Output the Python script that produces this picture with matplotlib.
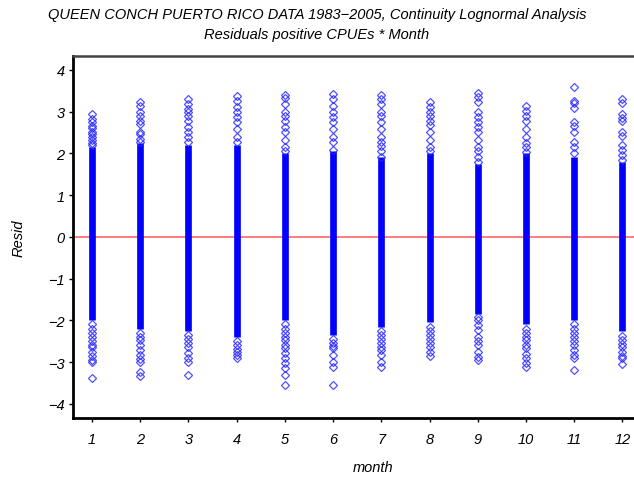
import matplotlib
matplotlib.use("Agg")
import matplotlib.pyplot as plt

months = list(range(1, 13))
core_lo = [-2.00, -2.20, -2.25, -2.40, -2.00, -2.35, -2.15, -2.05, -1.85, -2.10, -2.00, -2.25]
core_hi = [2.15, 2.25, 2.20, 2.20, 2.00, 2.05, 1.90, 2.00, 1.75, 2.00, 1.90, 1.80]
upper_pts = [
    [2.95, 2.82, 2.75, 2.65, 2.60, 2.50, 2.45, 2.40, 2.32, 2.25, 2.20],
    [3.22, 3.13, 2.98, 2.89, 2.77, 2.69, 2.52, 2.45, 2.35, 2.28],
    [3.29, 3.17, 3.05, 2.98, 2.90, 2.77, 2.64, 2.50, 2.38, 2.26],
    [3.37, 3.25, 3.10, 2.98, 2.86, 2.74, 2.57, 2.40, 2.28],
    [3.39, 3.33, 3.17, 2.98, 2.90, 2.77, 2.62, 2.50, 2.33, 2.16, 2.05],
    [3.41, 3.29, 3.13, 2.98, 2.86, 2.74, 2.57, 2.40, 2.26, 2.09],
    [3.39, 3.29, 3.17, 2.98, 2.90, 2.74, 2.57, 2.38, 2.26, 2.18, 2.05, 1.92],
    [3.22, 3.12, 3.00, 2.90, 2.77, 2.68, 2.50, 2.33, 2.16, 2.05],
    [3.44, 3.35, 3.22, 3.00, 2.86, 2.75, 2.62, 2.50, 2.33, 2.16, 2.05, 1.90, 1.80],
    [3.13, 3.02, 2.89, 2.78, 2.57, 2.38, 2.25, 2.14, 2.04],
    [3.58, 3.25, 3.20, 3.08, 2.74, 2.65, 2.50, 2.28, 2.14, 2.00],
    [3.29, 3.20, 2.93, 2.85, 2.77, 2.50, 2.42, 2.21, 2.09, 1.97, 1.85],
]
lower_pts = [
    [-2.10, -2.20, -2.30, -2.40, -2.50, -2.60, -2.65, -2.75, -2.85, -2.95, -3.00, -3.38],
    [-2.30, -2.40, -2.48, -2.60, -2.72, -2.84, -2.92, -3.00, -3.24, -3.33],
    [-2.35, -2.45, -2.55, -2.65, -2.78, -2.90, -2.99, -3.32],
    [-2.50, -2.60, -2.68, -2.76, -2.84, -2.91],
    [-2.10, -2.20, -2.30, -2.40, -2.48, -2.58, -2.67, -2.78, -2.91, -3.03, -3.15, -3.32, -3.56],
    [-2.45, -2.55, -2.62, -2.67, -2.84, -3.00, -3.13, -3.56],
    [-2.25, -2.35, -2.45, -2.55, -2.65, -2.72, -2.84, -3.00, -3.13],
    [-2.15, -2.25, -2.35, -2.45, -2.55, -2.64, -2.75, -2.86],
    [-1.92, -2.00, -2.12, -2.24, -2.40, -2.50, -2.60, -2.76, -2.88, -2.96],
    [-2.20, -2.30, -2.40, -2.48, -2.58, -2.67, -2.80, -2.91, -3.03, -3.13],
    [-2.10, -2.20, -2.30, -2.40, -2.50, -2.60, -2.72, -2.82, -2.91, -3.20],
    [-2.38, -2.48, -2.56, -2.64, -2.75, -2.85, -2.91, -3.05],
]
yticks = [-4, -3, -2, -1, 0, 1, 2, 3, 4]

plt.rcParams['font.family'] = ['Liberation Sans', 'DejaVu Sans']

fig = plt.figure(figsize=(6.34, 4.81), dpi=100)
ax = fig.add_axes([73/634, 1 - 419/481, 600/634, (419-57)/481])

blue = (0, 0, 1)
ax.axhline(0, color=(1, 0.45, 0.45), lw=1.3, zorder=1)
ax.vlines(months, core_lo, core_hi, colors=[blue], lw=4.8, zorder=2)
for m, ups, lows in zip(months, upper_pts, lower_pts):
    ys = ups + lows
    ax.plot([m] * len(ys), ys, ls='none', marker='D', ms=3.6, mfc='none',
            mec=(0.15, 0.15, 1, 0.8), mew=0.9, zorder=3)

ax.set_xlim(0.606, 13.05)
ax.set_ylim(-4.34, 4.33)
ax.set_xticks(months)
ax.set_xticklabels([str(m) for m in months])
ax.set_yticks(yticks)
ax.set_yticklabels([str(t).replace('-', '\u2212') for t in yticks])
for lab in ax.get_xticklabels() + ax.get_yticklabels():
    lab.set_fontstyle('italic')
    lab.set_fontsize(10.5)
ax.tick_params(axis='both', length=3, width=1, direction='out', color='black')
ax.tick_params(axis='x', pad=7)
ax.tick_params(axis='y', pad=3)
for side in ['left', 'bottom']:
    ax.spines[side].set_linewidth(2.0)
ax.spines['top'].set_linewidth(1.8)
ax.spines['top'].set_color('#444444')
ax.spines['right'].set_visible(False)

ax.set_xlabel('month', fontstyle='italic', fontsize=10.5, labelpad=10)
ax.set_ylabel('Resid', fontstyle='italic', fontsize=10.5, labelpad=16)

fig.text(0.5, 1 - 15/481, 'QUEEN CONCH PUERTO RICO DATA 1983\u22122005, Continuity Lognormal Analysis',
         ha='center', va='center', fontstyle='italic', fontsize=10.5)
fig.text(0.5, 1 - 35/481, 'Residuals positive CPUEs * Month',
         ha='center', va='center', fontstyle='italic', fontsize=10.5)

fig.savefig('out.png', dpi=100)
